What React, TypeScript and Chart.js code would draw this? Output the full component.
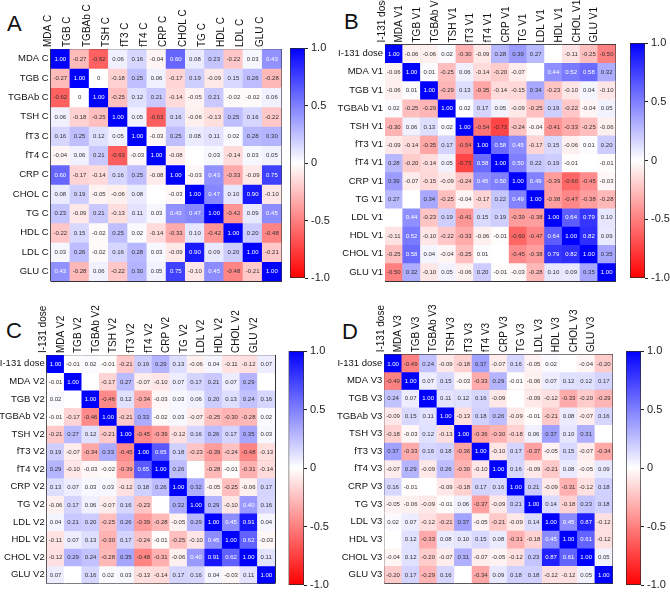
import React, { useEffect, useRef } from "react";
import { Chart, registerables } from "chart.js";
Chart.register(...registerables);

const FONT = 'Arial, "Liberation Sans", Helvetica, sans-serif';
const GRID = "#333333";

// ---------- Panel A ----------
const labelsA = ["MDA C", "TGB C", "TGBAb C", "TSH C", "fT3 C", "fT4 C", "CRP C", "CHOL C", "TG C", "HDL C", "LDL C", "GLU C"];
const valuesA: (number | null)[][] = [
  [1.0, -0.27, -0.62, 0.06, 0.16, -0.04, 0.6, 0.08, 0.23, -0.22, 0.03, 0.43],
  [-0.27, 1.0, 0, -0.18, 0.25, 0.06, -0.17, 0.19, -0.09, 0.15, 0.26, -0.28],
  [-0.62, 0, 1.0, -0.25, 0.12, 0.21, -0.14, -0.05, 0.21, -0.02, -0.02, 0.06],
  [0.06, -0.18, -0.25, 1.0, 0.05, -0.63, 0.16, -0.06, -0.13, 0.25, 0.16, -0.22],
  [0.16, 0.25, 0.12, 0.05, 1.0, -0.03, 0.25, 0.08, 0.11, 0.02, 0.28, 0.3],
  [-0.04, 0.06, 0.21, -0.63, -0.03, 1.0, -0.08, null, 0.03, -0.14, 0.03, 0.05],
  [0.6, -0.17, -0.14, 0.16, 0.25, -0.08, 1.0, -0.03, 0.43, -0.33, -0.09, 0.75],
  [0.08, 0.19, -0.05, -0.06, 0.08, null, -0.03, 1.0, 0.47, 0.1, 0.9, -0.1],
  [0.23, -0.09, 0.21, -0.13, 0.11, 0.03, 0.43, 0.47, 1.0, -0.42, 0.09, 0.45],
  [-0.22, 0.15, -0.02, 0.25, 0.02, -0.14, -0.33, 0.1, -0.42, 1.0, 0.2, -0.48],
  [0.03, 0.26, -0.02, 0.16, 0.28, 0.03, -0.09, 0.9, 0.09, 0.2, 1.0, -0.21],
  [0.43, -0.28, 0.06, -0.22, 0.3, 0.05, 0.75, -0.1, 0.45, -0.48, -0.21, 1.0],
];

// ---------- Panel B ----------
const labelsB = ["I-131 dose", "MDA V1", "TGB V1", "TGBAb V1", "TSH V1", "fT3 V1", "fT4 V1", "CRP V1", "TG V1", "LDL V1", "HDL V1", "CHOL V1", "GLU V1"];
const valuesB: (number | null)[][] = [
  [1.0, -0.06, -0.06, 0.02, -0.3, -0.09, 0.28, 0.39, 0.27, null, -0.11, -0.25, -0.5],
  [-0.06, 1.0, 0.01, -0.25, 0.06, -0.14, -0.2, -0.07, null, 0.44, 0.52, 0.58, 0.32],
  [-0.06, 0.01, 1.0, -0.29, 0.13, -0.35, -0.14, -0.15, 0.34, -0.23, -0.1, 0.04, -0.1],
  [0.02, -0.25, -0.29, 1.0, 0.02, 0.17, 0.05, -0.09, -0.25, 0.19, -0.22, -0.04, 0.05],
  [-0.3, 0.06, 0.13, 0.02, 1.0, -0.54, -0.73, -0.24, -0.04, -0.41, -0.33, -0.25, -0.06],
  [-0.09, -0.14, -0.35, 0.17, -0.54, 1.0, 0.58, 0.45, -0.17, 0.15, -0.06, 0.01, 0.2],
  [0.28, -0.2, -0.14, 0.05, -0.73, 0.58, 1.0, 0.5, 0.22, 0.19, -0.01, null, -0.01],
  [0.39, -0.07, -0.15, -0.09, -0.24, 0.45, 0.5, 1.0, 0.49, -0.39, -0.6, -0.45, -0.03],
  [0.27, null, 0.34, -0.25, -0.04, -0.17, 0.22, 0.49, 1.0, -0.38, -0.47, -0.38, -0.28],
  [null, 0.44, -0.23, 0.19, -0.41, 0.15, 0.19, -0.39, -0.38, 1.0, 0.64, 0.79, 0.1],
  [-0.11, 0.52, -0.1, -0.22, -0.33, -0.06, -0.01, -0.6, -0.47, 0.64, 1.0, 0.82, 0.09],
  [-0.25, 0.58, 0.04, -0.04, -0.25, 0.01, null, -0.45, -0.38, 0.79, 0.82, 1.0, 0.35],
  [-0.5, 0.32, -0.1, 0.05, -0.06, 0.2, -0.01, -0.03, -0.28, 0.1, 0.09, 0.35, 1.0],
];

// ---------- Panel C ----------
const labelsC = ["I-131 dose", "MDA V2", "TGB V2", "TGBAb V2", "TSH V2", "fT3 V2", "fT4 V2", "CRP V2", "TG V2", "LDL V2", "HDL V2", "CHOL V2", "GLU V2"];
const valuesC: (number | null)[][] = [
  [1.0, -0.01, 0.02, -0.01, -0.21, 0.19, 0.29, 0.13, -0.06, 0.04, -0.11, -0.12, 0.07],
  [-0.01, 1.0, null, -0.17, 0.27, -0.07, -0.1, 0.07, 0.17, 0.21, 0.07, 0.29, null],
  [0.02, null, 1.0, -0.46, 0.12, -0.34, -0.03, 0.03, 0.06, 0.2, 0.13, 0.24, 0.16],
  [-0.01, -0.17, -0.46, 1.0, -0.21, 0.33, -0.02, 0.03, -0.07, -0.25, -0.3, -0.28, 0.02],
  [-0.21, 0.27, 0.12, -0.21, 1.0, -0.45, -0.39, -0.12, 0.16, 0.26, 0.17, 0.35, 0.03],
  [0.19, -0.07, -0.34, 0.33, -0.45, 1.0, 0.65, 0.18, -0.23, -0.39, -0.24, -0.48, -0.13],
  [0.29, -0.1, -0.03, -0.02, -0.39, 0.65, 1.0, 0.26, null, -0.28, -0.01, -0.31, -0.14],
  [0.13, 0.07, 0.03, 0.03, -0.12, 0.18, 0.26, 1.0, 0.32, -0.05, -0.25, -0.06, 0.17],
  [-0.06, 0.17, 0.06, -0.07, 0.16, -0.23, null, 0.32, 1.0, 0.29, -0.1, 0.4, 0.16],
  [0.04, 0.21, 0.2, -0.25, 0.26, -0.39, -0.28, -0.05, 0.29, 1.0, 0.45, 0.91, 0.04],
  [-0.11, 0.07, 0.13, -0.3, 0.17, -0.24, -0.01, -0.25, -0.1, 0.45, 1.0, 0.62, -0.03],
  [-0.12, 0.29, 0.24, -0.28, 0.35, -0.48, -0.31, -0.06, 0.4, 0.91, 0.62, 1.0, 0.11],
  [0.07, null, 0.16, 0.02, 0.03, -0.13, -0.14, 0.17, 0.16, 0.04, -0.03, 0.11, 1.0],
];

// ---------- Panel D ----------
const labelsD = ["I-131 dose", "MDA V3", "TGB V3", "TGBAb V3", "TSH V3", "fT3 V3", "fT4 V3", "CRP V3", "TG V3", "LDL V3", "HDL V3", "CHOL V3", "GLU V3"];
const valuesD: (number | null)[][] = [
  [1.0, -0.49, 0.24, -0.09, -0.18, 0.37, -0.07, 0.16, -0.05, 0.02, null, -0.04, -0.2],
  [-0.49, 1.0, 0.07, 0.15, -0.03, -0.33, 0.29, -0.01, -0.06, 0.07, 0.12, 0.12, 0.17],
  [0.24, 0.07, 1.0, 0.11, 0.12, 0.16, -0.09, null, -0.09, -0.12, -0.33, -0.2, -0.29],
  [-0.09, 0.15, 0.11, 1.0, -0.13, 0.18, 0.26, -0.09, -0.01, -0.21, 0.08, -0.07, 0.16],
  [-0.18, -0.03, 0.12, -0.13, 1.0, -0.36, -0.3, -0.18, 0.06, 0.37, 0.1, 0.31, null],
  [0.37, -0.33, 0.16, 0.18, -0.36, 1.0, -0.1, 0.17, -0.37, -0.05, 0.15, -0.07, -0.34],
  [-0.07, 0.29, -0.09, 0.26, -0.3, -0.1, 1.0, 0.16, -0.09, -0.21, 0.08, -0.05, 0.09],
  [0.16, -0.01, null, -0.09, -0.18, 0.17, 0.16, 1.0, 0.21, -0.09, -0.31, -0.12, 0.18],
  [-0.05, -0.06, -0.09, -0.01, 0.06, -0.37, -0.09, 0.21, 1.0, 0.14, -0.18, 0.23, 0.18],
  [0.02, 0.07, -0.12, -0.21, 0.37, -0.05, -0.21, -0.09, 0.14, 1.0, 0.45, 0.87, -0.12],
  [null, 0.12, -0.33, 0.08, 0.1, 0.15, 0.08, -0.31, -0.18, 0.45, 1.0, 0.61, -0.12],
  [-0.04, 0.12, -0.2, -0.07, 0.31, -0.07, -0.05, -0.12, 0.23, 0.87, 0.61, 1.0, 0.05],
  [-0.2, 0.17, -0.29, 0.16, null, -0.34, 0.09, 0.18, 0.18, -0.12, -0.12, 0.05, 1.0],
];

// colour-bar ticks
const colorbarTicks = [-1, -0.5, 0, 0.5, 1];

type Rect = { l: number; t: number; r: number; b: number };

function cellColor(v: number | null): string {
  if (v == null) return "#ffffff";
  const a = Math.min(1, Math.abs(v));
  const c = Math.round(255 * (1 - a));
  return v >= 0 ? `rgb(${c},${c},255)` : `rgb(255,${c},${c})`;
}

function fmt(v: number): string {
  if (v === 0) return "0";
  return v.toFixed(2);
}

function Heatmap({ labels, values, grid, cl, ct }: { labels: string[]; values: (number | null)[][]; grid: Rect; cl: number; ct: number }) {
  const ref = useRef<HTMLCanvasElement>(null);
  const n = labels.length;
  const yAxisW = grid.l - cl;
  const xAxisH = grid.t - ct;
  const width = Math.ceil(grid.r) + 3 - cl;
  const height = Math.ceil(grid.b) + 3 - ct;
  const padR = width - (grid.r - cl);
  const padB = height - (grid.b - ct);

  useEffect(() => {
    const datasets = values.map((row, i) => ({
      label: labels[i],
      data: row.map(() => 1),
      backgroundColor: row.map(cellColor),
      borderWidth: 0,
      barPercentage: 1,
      categoryPercentage: 1,
    }));
    const textPlugin = {
      id: "cellText",
      afterDatasetsDraw(chart: any) {
        const ctx = chart.ctx;
        ctx.save();
        ctx.font = `6px ${FONT}`;
        ctx.textAlign = "center";
        ctx.textBaseline = "middle";
        values.forEach((row, i) => {
          const meta = chart.getDatasetMeta(i);
          meta.data.forEach((el: any, j: number) => {
            const v = row[j];
            if (v == null) return;
            const p = el.getProps(["x", "y", "base"], true);
            ctx.fillStyle = v >= 0.4 ? "#ffffff" : "#333333";
            ctx.fillText(fmt(v), p.x, (p.y + p.base) / 2 + 0.5);
          });
        });
        ctx.restore();
      },
    };
    const chart = new Chart(ref.current as HTMLCanvasElement, {
      type: "bar",
      data: { labels, datasets },
      options: {
        responsive: false,
        maintainAspectRatio: false,
        animation: false,
        layout: { padding: { left: 0, top: 0, right: padR, bottom: padB } },
        plugins: { legend: { display: false }, tooltip: { enabled: false } },
        scales: {
          x: {
            type: "category",
            position: "top",
            stacked: true,
            offset: true,
            z: 1,
            grid: { offset: true, color: GRID, lineWidth: 1, drawTicks: false },
            border: { display: false },
            ticks: { autoSkip: false, minRotation: 90, maxRotation: 90, padding: 2, color: "#111", font: { family: FONT, size: 10 } },
            afterFit: (s: any) => {
              s.height = xAxisH;
              s.paddingLeft = 0;
              s.paddingRight = 0;
            },
          },
          y: {
            type: "linear",
            position: "right",
            stacked: true,
            reverse: true,
            min: 0,
            max: n,
            z: 1,
            ticks: { display: false, stepSize: 1 },
            afterBuildTicks: (s: any) => {
              s.ticks = Array.from({ length: n + 1 }, (_, i) => ({ value: i }));
            },
            grid: { color: GRID, lineWidth: 1, drawTicks: false },
            border: { display: false },
            afterFit: (s: any) => {
              s.width = 0;
              s.paddingTop = 0;
              s.paddingBottom = 0;
            },
          },
          yl: {
            type: "linear",
            position: "left",
            reverse: true,
            min: 0,
            max: n,
            afterBuildTicks: (s: any) => {
              s.ticks = labels.map((_, i) => ({ value: i + 0.5 }));
            },
            ticks: {
              autoSkip: false,
              padding: 2,
              color: "#111",
              font: { family: FONT, size: 9.5 },
              callback: (_v: any, i: number) => labels[i],
            },
            grid: { display: false, drawTicks: false },
            border: { display: false },
            afterFit: (s: any) => {
              s.width = yAxisW;
              s.paddingTop = 0;
              s.paddingBottom = 0;
            },
          },
        },
      } as any,
      plugins: [textPlugin],
    });
    return () => chart.destroy();
  }, []);

  return <canvas ref={ref} width={width} height={height} style={{ position: "absolute", left: cl, top: ct, width, height }} />;
}

function ColorBar({ bar }: { bar: Rect }) {
  const ref = useRef<HTMLCanvasElement>(null);
  const cl = Math.floor(bar.l) - 2;
  const ct = Math.floor(bar.t) - 10;
  const width = Math.min(670, Math.ceil(bar.r) + 28) - cl;
  const height = Math.ceil(bar.b) + 10 - ct;
  const padL = bar.l - cl;
  const padT = bar.t - ct;
  const padB = height - (bar.b - ct);
  const axisW = width - (bar.r - cl);

  useEffect(() => {
    const chart = new Chart(ref.current as HTMLCanvasElement, {
      type: "bar",
      data: {
        labels: ["r"],
        datasets: [
          {
            data: [[colorbarTicks[0], colorbarTicks[colorbarTicks.length - 1]]],
            backgroundColor: (c: any) => {
              const area = c.chart.chartArea;
              if (!area) return "#fff";
              const g = c.chart.ctx.createLinearGradient(0, area.bottom, 0, area.top);
              g.addColorStop(0, "rgb(255,0,0)");
              g.addColorStop(0.5, "rgb(255,255,255)");
              g.addColorStop(1, "rgb(0,0,255)");
              return g;
            },
            borderColor: "#2a2a2a",
            borderWidth: 1,
            borderSkipped: false,
            barPercentage: 1,
            categoryPercentage: 1,
          } as any,
        ],
      },
      options: {
        responsive: false,
        maintainAspectRatio: false,
        animation: false,
        layout: { padding: { left: padL, top: padT, right: 0, bottom: padB } },
        plugins: { legend: { display: false }, tooltip: { enabled: false } },
        scales: {
          x: { display: false, offset: true },
          y: {
            type: "linear",
            position: "right",
            min: -1,
            max: 1,
            afterBuildTicks: (s: any) => {
              s.ticks = colorbarTicks.map((v) => ({ value: v }));
            },
            ticks: {
              padding: 3,
              color: "#222",
              font: { family: FONT, size: 11 },
              callback: (v: any) => (v === 0 ? "0" : Number(v).toFixed(1)),
            },
            grid: { drawOnChartArea: false, drawTicks: true, tickLength: 3, color: "#222" },
            border: { display: false },
            afterFit: (s: any) => {
              s.width = axisW;
              s.paddingTop = 0;
              s.paddingBottom = 0;
            },
          },
        },
      } as any,
    });
    return () => chart.destroy();
  }, []);

  return <canvas ref={ref} width={width} height={height} style={{ position: "absolute", left: cl, top: ct, width, height }} />;
}

function Letter({ text, left, top }: { text: string; left: number; top: number }) {
  return (
    <div style={{ position: "absolute", left, top, fontFamily: FONT, fontSize: 22, lineHeight: "22px", color: "#111" }}>{text}</div>
  );
}

export default function App() {
  return (
    <div style={{ position: "fixed", left: 0, top: 0, width: 670, height: 593, background: "#fff", overflow: "hidden" }}>
      <Letter text="A" left={7} top={13} />
      <Letter text="B" left={344} top={11} />
      <Letter text="C" left={6} top={320} />
      <Letter text="D" left={342} top={321} />
      <Heatmap labels={labelsA} values={valuesA} grid={{ l: 50.7, t: 49, r: 281.5, b: 281 }} cl={0} ct={0} />
      <Heatmap labels={labelsB} values={valuesB} grid={{ l: 385, t: 44.5, r: 615.5, b: 281 }} cl={335} ct={0} />
      <Heatmap labels={labelsC} values={valuesC} grid={{ l: 46.7, t: 355, r: 275, b: 583.5 }} cl={0} ct={297} />
      <Heatmap labels={labelsD} values={valuesD} grid={{ l: 384.3, t: 354.3, r: 612.5, b: 583.3 }} cl={335} ct={297} />
      <ColorBar bar={{ l: 290, t: 48, r: 305, b: 278 }} />
      <ColorBar bar={{ l: 630, t: 43, r: 645, b: 278 }} />
      <ColorBar bar={{ l: 288.5, t: 351, r: 304, b: 585 }} />
      <ColorBar bar={{ l: 626, t: 351, r: 641, b: 585 }} />
    </div>
  );
}
